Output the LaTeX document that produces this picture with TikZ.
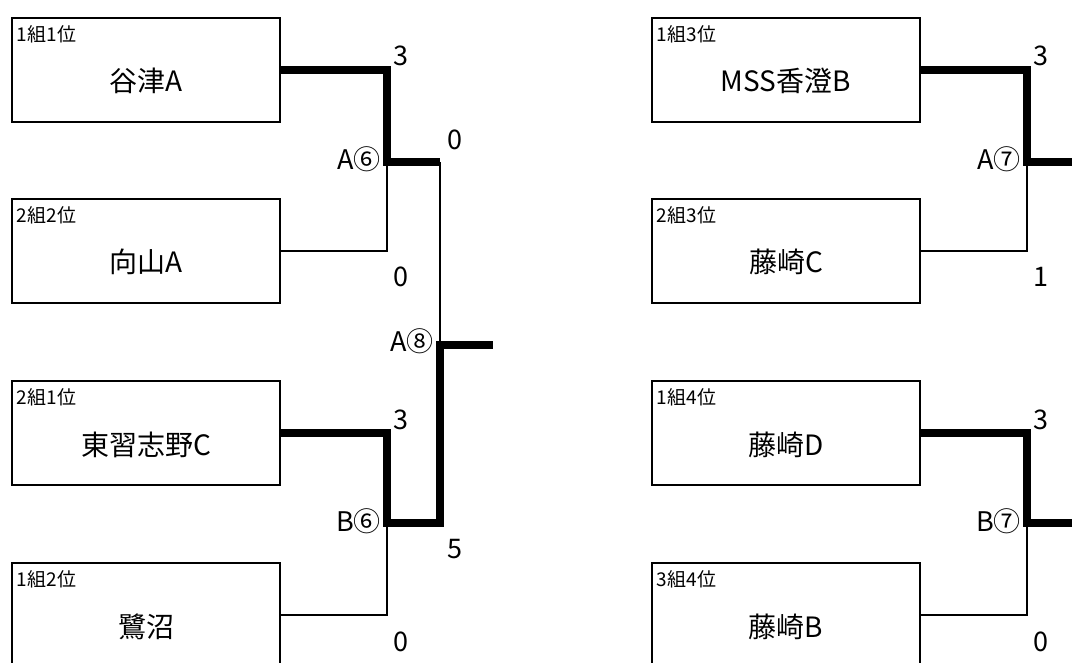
\documentclass[tikz,border=0pt]{standalone}
\usepackage{fontspec}
\setmainfont{Noto Sans CJK JP}
\begin{document}
\begin{tikzpicture}[x=1pt, y=-1pt,
    teambox/.style={draw, line width=2.5pt, minimum width=268pt, minimum height=104pt, inner sep=0pt},
    rank/.style={anchor=base west, inner sep=0pt, xshift=6pt, yshift=-25pt, font=\fontsize{19}{19}\selectfont},
    teamname/.style={anchor=base, inner sep=0pt, yshift=-22pt, font=\fontsize{28}{28}\selectfont},
    score/.style={inner sep=0pt, font=\fontsize{27}{27}\selectfont},
    win/.style={line width=8pt},
    lose/.style={line width=2pt}]
    \useasboundingbox (0,0) rectangle (1072,663);

    \node[teambox] (t1) at (146,70) {};
    \node[teambox] (t2) at (146,251) {};
    \node[teambox] (t3) at (146,433) {};
    \node[teambox] (t4) at (146,615) {};
    \node[teambox] (t5) at (786,70) {};
    \node[teambox] (t6) at (786,251) {};
    \node[teambox] (t7) at (786,433) {};
    \node[teambox] (t8) at (786,615) {};

    \node[rank] at (t1.north west) {1組1位};
    \node[rank] at (t2.north west) {2組2位};
    \node[rank] at (t3.north west) {2組1位};
    \node[rank] at (t4.north west) {1組2位};
    \node[rank] at (t5.north west) {1組3位};
    \node[rank] at (t6.north west) {2組3位};
    \node[rank] at (t7.north west) {1組4位};
    \node[rank] at (t8.north west) {3組4位};

    \node[teamname] at (t1.center) {谷津A};
    \node[teamname] at (t2.center) {向山A};
    \node[teamname] at (t3.center) {東習志野C};
    \node[teamname] at (t4.center) {鷺沼};
    \node[teamname] at (t5.center) {MSS香澄B};
    \node[teamname] at (t6.center) {藤崎C};
    \node[teamname] at (t7.center) {藤崎D};
    \node[teamname] at (t8.center) {藤崎B};

    \coordinate (a6) at (387,162);
    \coordinate (b6) at (387,523);
    \coordinate (a8top) at (440,162);
    \coordinate (a8) at (440,345);
    \coordinate (a8bot) at (440,523);
    \coordinate (a8out) at (493,345);
    \coordinate (a7) at (1027,162);
    \coordinate (b7) at (1027,523);
    \coordinate (a7out) at (1080,162);
    \coordinate (b7out) at (1080,523);

    \draw[lose] (t2.east) -| (a6);
    \draw[lose] (t4.east) -| (b6);
    \draw[lose] (a8top) -- (a8);
    \draw[lose] (t6.east) -| (a7);
    \draw[lose] (t8.east) -| (b7);
    \draw[win] (t1.east) -| (a6) -- (a8top);
    \draw[win] (t3.east) -| (b6) -- (a8bot) -- (a8) -- (a8out);
    \draw[win] (t5.east) -| (a7) -- (a7out);
    \draw[win] (t7.east) -| (b7) -- (b7out);

    \node[score, anchor=base west, xshift=6pt, yshift=4pt] at (t1.east -| a6) {3};
    \node[score, anchor=base west, xshift=6pt, yshift=-36pt] at (t2.east -| a6) {0};
    \node[score, anchor=base east, xshift=-6pt, yshift=-8pt] at (a6) {A⑥};
    \node[score, anchor=base west, xshift=6pt, yshift=4pt] at (t3.east -| b6) {3};
    \node[score, anchor=base west, xshift=6pt, yshift=-36pt] at (t4.east -| b6) {0};
    \node[score, anchor=base east, xshift=-6pt, yshift=-8pt] at (b6) {B⑥};
    \node[score, anchor=base west, xshift=7pt, yshift=12pt] at (a8top) {0};
    \node[score, anchor=base west, xshift=7pt, yshift=-35pt] at (a8bot) {5};
    \node[score, anchor=base east, xshift=-6pt, yshift=-7pt] at (a8) {A⑧};
    \node[score, anchor=base west, xshift=6pt, yshift=4pt] at (t5.east -| a7) {3};
    \node[score, anchor=base west, xshift=6pt, yshift=-36pt] at (t6.east -| a7) {1};
    \node[score, anchor=base east, xshift=-6pt, yshift=-8pt] at (a7) {A⑦};
    \node[score, anchor=base west, xshift=6pt, yshift=4pt] at (t7.east -| b7) {3};
    \node[score, anchor=base west, xshift=6pt, yshift=-36pt] at (t8.east -| b7) {0};
    \node[score, anchor=base east, xshift=-6pt, yshift=-8pt] at (b7) {B⑦};
\end{tikzpicture}
\end{document}
